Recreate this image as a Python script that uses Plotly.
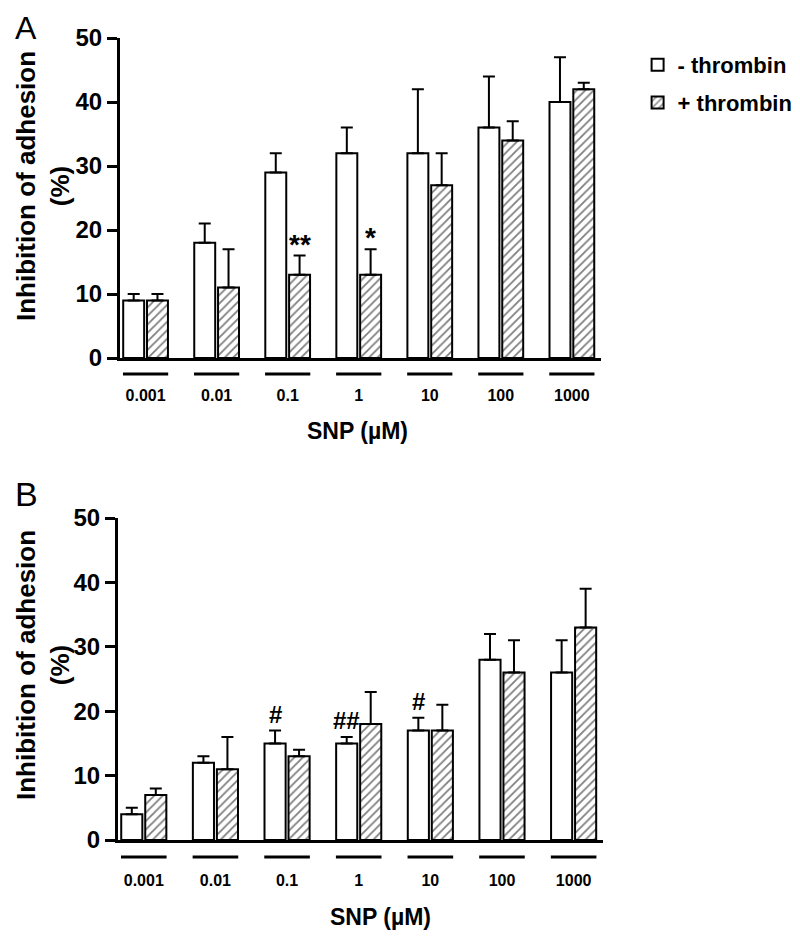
import plotly.graph_objects as go

# ---- data ----
conc = ["0.001", "0.01", "0.1", "1", "10", "100", "1000"]

a_minus = [9, 18, 29, 32, 32, 36, 40]
a_minus_err = [1, 3, 3, 4, 10, 8, 7]
a_plus = [9, 11, 13, 13, 27, 34, 42]
a_plus_err = [1, 6, 3, 4, 5, 3, 1]

b_minus = [4, 12, 15, 15, 17, 28, 26]
b_minus_err = [1, 1, 2, 1, 2, 4, 5]
b_plus = [7, 11, 13, 18, 17, 26, 33]
b_plus_err = [1, 5, 1, 5, 4, 5, 6]

# significance marks: (category index, series, label)
a_marks = [(2, "plus", "**"), (3, "plus", "*")]
b_marks = [(2, "minus", "#"), (3, "minus", "##"), (4, "minus", "#")]

FONT = "Liberation Sans, Arial, sans-serif"
W, H = 800, 937
OFF_X, OFF_Y = 0, 8


def fx(px):
    return (px - OFF_X) / W


def fy(py):
    return 1 - (py - OFF_Y) / H


BARGAP = 0.33
BARGROUPGAP = 0.12
slot = (1 - BARGAP) / 2
offsets = {"minus": -slot / 2, "plus": slot / 2}

fig = go.Figure()


def add_panel(xa, ya, minus, minus_err, plus, plus_err, showlegend):
    fig.add_trace(go.Bar(
        x=conc, y=minus, name="- thrombin", xaxis=xa, yaxis=ya,
        marker=dict(color="white", line=dict(color="black", width=2)),
        error_y=dict(type="data", array=minus_err, arrayminus=[0] * len(minus),
                     symmetric=False, color="black", thickness=2, width=6),
        showlegend=showlegend, legendgroup="minus",
    ))
    fig.add_trace(go.Bar(
        x=conc, y=plus, name="+ thrombin", xaxis=xa, yaxis=ya,
        marker=dict(color="white", line=dict(color="black", width=2),
                    pattern=dict(shape="/", fgcolor="black", bgcolor="white",
                                 size=6, solidity=0.3)),
        error_y=dict(type="data", array=plus_err, arrayminus=[0] * len(plus),
                     symmetric=False, color="black", thickness=2, width=6),
        showlegend=showlegend, legendgroup="plus",
    ))


add_panel("x", "y", a_minus, a_minus_err, a_plus, a_plus_err, True)
add_panel("x2", "y2", b_minus, b_minus_err, b_plus, b_plus_err, False)

xcommon = dict(
    type="category", range=[-0.36, 6.41], showline=True, linewidth=3,
    linecolor="black", ticks="", showgrid=False, zeroline=False,
    tickfont=dict(family=FONT, size=16, color="black", weight="bold"),
    fixedrange=True, automargin=False,
)
ycommon = dict(
    range=[0, 50], dtick=10, showline=True, linewidth=3, linecolor="black",
    ticks="outside", ticklen=10, tickwidth=3, tickcolor="black",
    showgrid=False, zeroline=False, automargin=False,
    tickfont=dict(family=FONT, size=24, color="black", weight="bold"),
)

fig.update_layout(
    width=W, height=H, autosize=False,
    margin=dict(l=0, r=0, t=0, b=0, pad=0, autoexpand=False),
    paper_bgcolor="white", plot_bgcolor="white",
    barmode="group", bargap=BARGAP, bargroupgap=BARGROUPGAP,
    xaxis=dict(domain=[fx(112), fx(593)], anchor="y", ticklabelstandoff=21, **xcommon),
    yaxis=dict(domain=[fy(358), fy(38)], anchor="x", **ycommon),
    xaxis2=dict(domain=[fx(110), fx(595)], anchor="y2", ticklabelstandoff=24, **xcommon),
    yaxis2=dict(domain=[fy(840), fy(518)], anchor="x2", **ycommon),
    legend=dict(x=0.787, y=fy(44), xanchor="left", yanchor="top",
                font=dict(family=FONT, size=22, color="black", weight="bold"),
                tracegroupgap=6, traceorder="grouped", bgcolor="rgba(0,0,0,0)"),
    showlegend=True,
)

annotations = []
shapes = []

# group underlines
for xa, ya, ydom in [("x", "y domain", -0.05), ("x2", "y2 domain", -0.053)]:
    for i in range(len(conc)):
        shapes.append(dict(type="line", xref=xa, yref=ya,
                           x0=i - slot * 0.95, x1=i + slot * 0.95, y0=ydom, y1=ydom,
                           line=dict(color="black", width=3)))

# significance marks
series_a = {"minus": (a_minus, a_minus_err), "plus": (a_plus, a_plus_err)}
series_b = {"minus": (b_minus, b_minus_err), "plus": (b_plus, b_plus_err)}
for marks, series, xa, ya, shift, fsize in [(a_marks, series_a, "x", "y", -6, 28),
                                            (b_marks, series_b, "x2", "y2", 1, 24)]:
    for i, s, lab in marks:
        v, e = series[s]
        annotations.append(dict(x=i + offsets[s], y=v[i] + e[i], xref=xa, yref=ya,
                                text=lab, showarrow=False, yanchor="bottom",
                                yshift=shift,
                                font=dict(family=FONT, size=fsize, color="black", weight="bold")))

# axis titles
for xp, yp in [(349, 431), (372, 917)]:
    annotations.append(dict(x=fx(xp), y=fy(yp), xref="paper", yref="paper", text="SNP (\u00b5M)",
                            showarrow=False, xanchor="center", yanchor="middle",
                            font=dict(family=FONT, size=23, color="black", weight="bold")))
for yp in [186, 665]:
    annotations.append(dict(x=fx(35), y=fy(yp), xref="paper", yref="paper",
                            text="Inhibition of adhesion<br>(%)", textangle=-90,
                            showarrow=False, xanchor="center", yanchor="middle",
                            font=dict(family=FONT, size=26, color="black", weight="bold")))

# panel letters
annotations.append(dict(x=fx(5), y=1, xref="paper", yref="paper", text="A",
                        showarrow=False, xanchor="left", yanchor="top",
                        font=dict(family=FONT, size=32, color="black")))
annotations.append(dict(x=fx(5), y=fy(494), xref="paper", yref="paper", text="B",
                        showarrow=False, xanchor="left", yanchor="middle",
                        font=dict(family=FONT, size=34, color="black")))

fig.update_layout(annotations=annotations, shapes=shapes)

fig.write_html("out.html")
